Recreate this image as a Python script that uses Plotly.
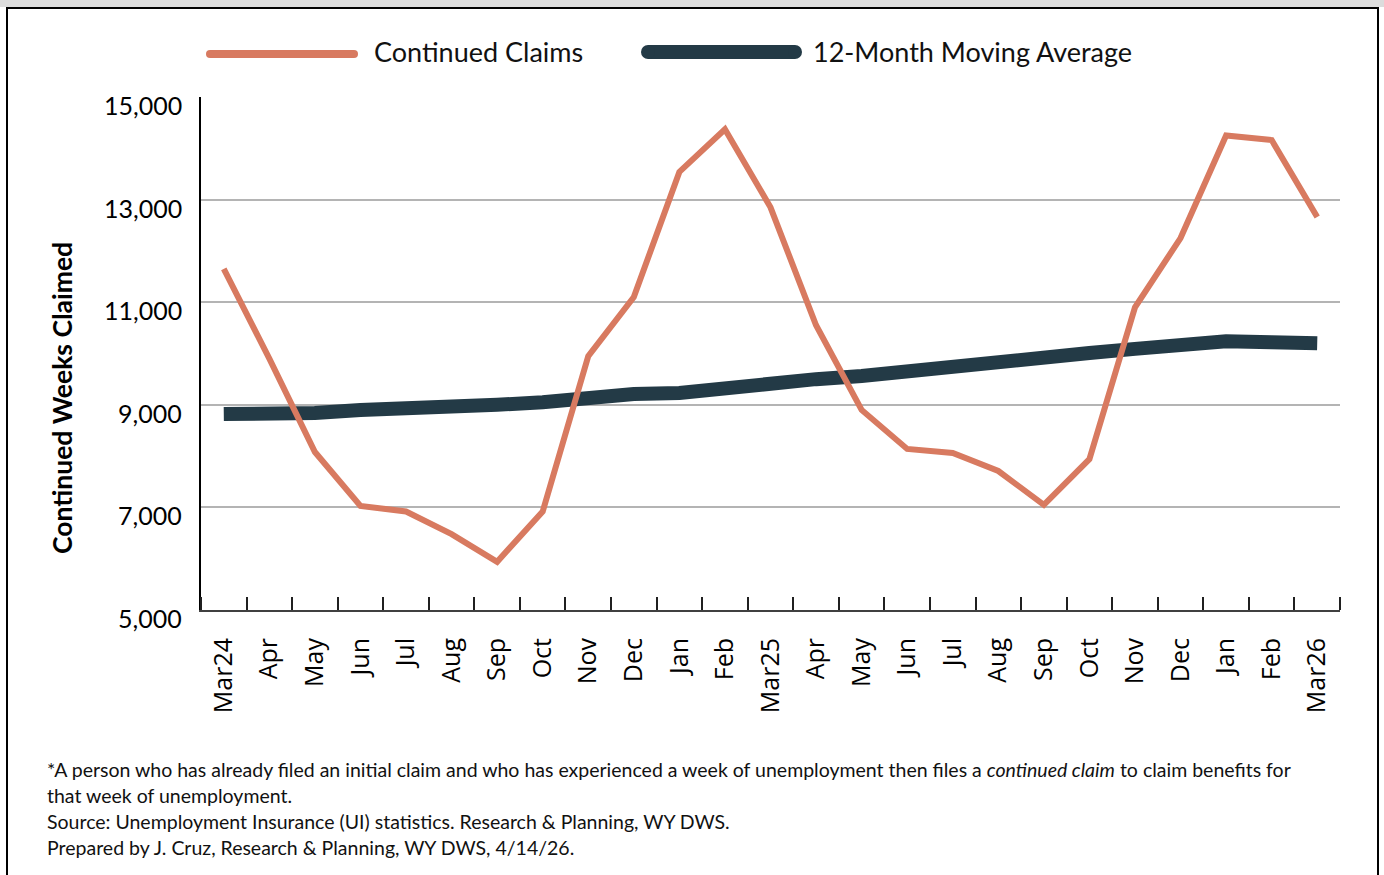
import plotly.graph_objects as go

# ---------------- data ----------------
month_labels = ["Mar24", "Apr", "May", "Jun", "Jul", "Aug", "Sep", "Oct", "Nov", "Dec",
                "Jan", "Feb", "Mar25", "Apr", "May", "Jun", "Jul", "Aug", "Sep", "Oct",
                "Nov", "Dec", "Jan", "Feb", "Mar26"]
continued_claims = [11650, 9900, 8080, 7030, 6920, 6480, 5940, 6920, 9950, 11100,
                    13540, 14370, 12850, 10550, 8900, 8140, 8060, 7710, 7050, 7940,
                    10900, 12250, 14250, 14160, 12660]
moving_average = [8820, 8800, 8840, 8900, 8920, 8960, 9000, 9050, 9150, 9210,
                  9230, 9330, 9440, 9500, 9560, 9660, 9740, 9830, 9930, 10010,
                  10090, 10180, 10240, 10220, 10200]
y_ticks = [5000, 7000, 9000, 11000, 13000, 15000]
y_tick_text = ["5,000", "7,000", "9,000", "11,000", "13,000", "15,000"]

x_pos = list(range(len(month_labels)))

# ---------------- style / layout ----------------
W, H = 1384, 875
L, R, T, B = 201, 44, 97, 265
PW, PH = W - L - R, H - T - B
ORANGE = "#D87A60"
DARK = "#233A46"


def px(x):
    return (x - L) / PW


def py(y):
    return (H - B - y) / PH


fig = go.Figure()
fig.add_trace(go.Scatter(x=x_pos, y=moving_average, mode="lines", name="12-Month Moving Average",
                         line=dict(color=DARK, width=14), showlegend=False))
fig.add_trace(go.Scatter(x=x_pos, y=continued_claims, mode="lines", name="Continued Claims",
                         line=dict(color=ORANGE, width=6), showlegend=False))

shapes = []
# top gray band and black frame
shapes.append(dict(type="rect", xref="paper", yref="paper", x0=px(0), x1=px(W), y0=py(0), y1=py(7),
                   fillcolor="#dcdcdc", line=dict(width=0), layer="below"))
shapes.append(dict(type="rect", xref="paper", yref="paper", x0=px(7), x1=px(1378), y0=py(8), y1=py(H + 20),
                   fillcolor="rgba(0,0,0,0)", line=dict(color="black", width=2), layer="below"))


def swatch(x0, x1, yc, w, color):
    out = [dict(type="line", xref="paper", yref="paper", x0=px(x0), x1=px(x1), y0=py(yc), y1=py(yc),
                line=dict(color=color, width=w))]
    for xe in (x0, x1):
        out.append(dict(type="circle", xref="paper", yref="paper", xsizemode="pixel", ysizemode="pixel",
                        xanchor=px(xe), yanchor=py(yc), x0=-w / 2, x1=w / 2, y0=-w / 2, y1=w / 2,
                        fillcolor=color, line=dict(width=0)))
    return out


shapes += swatch(210, 354, 54, 8, ORANGE)
shapes += swatch(648, 795, 52, 14, DARK)

annotations = [
    dict(text="Continued Claims", x=px(372), y=py(52), xref="paper", yref="paper", xanchor="left",
         yanchor="middle", showarrow=False, font=dict(family="Lato", size=27, color="#111")),
    dict(text="12-Month Moving Average", x=px(811), y=py(52), xref="paper", yref="paper", xanchor="left",
         yanchor="middle", showarrow=False, font=dict(family="Lato", size=27, color="#111")),
    dict(text="<b>Continued Weeks Claimed</b>", x=px(62), y=py(398), xref="paper", yref="paper",
         xanchor="center", yanchor="middle", textangle=-90, showarrow=False,
         font=dict(family="Lato", size=26.5, color="black")),
]
# y tick labels (sit slightly below their gridlines, as in the original)
for v, t in zip(y_ticks, y_tick_text):
    annotations.append(dict(text=t, x=px(184), y=v, xref="paper", yref="y", yshift=-8,
                            xanchor="right", yanchor="middle", showarrow=False,
                            font=dict(family="Lato", size=25, color="black")))

foot_lines = [
    "*A person who has already filed an initial claim and who has experienced a week of unemployment then files a <i>continued claim</i> to claim benefits for",
    "that week of unemployment.",
    "Source: Unemployment Insurance (UI) statistics. Research &amp; Planning, WY DWS.",
    "Prepared by J. Cruz, Research &amp; Planning, WY DWS, 4/14/26.",
]
for i, t in enumerate(foot_lines):
    annotations.append(dict(text=t, x=px(45), y=py(769 + 26 * i), xref="paper", yref="paper",
                            xanchor="left", yanchor="middle", showarrow=False, align="left",
                            font=dict(family="Lato", size=19.5, color="#111")))

fig.update_layout(
    width=W, height=H,
    margin=dict(l=L, r=R, t=T, b=B, pad=0),
    paper_bgcolor="white", plot_bgcolor="white",
    shapes=shapes, annotations=annotations,
    xaxis=dict(
        range=[-0.5, len(month_labels) - 0.5],
        tickmode="array", tickvals=x_pos, ticktext=month_labels,
        tickangle=-90, ticks="", ticklabelstandoff=16,
        tickfont=dict(family="Open Sans", size=25, color="black"),
        showgrid=False, zeroline=False,
        showline=True, linecolor="#404040", linewidth=2,
        minor=dict(tick0=-0.5, dtick=1, ticks="inside", ticklen=13, tickwidth=2, tickcolor="#202020",
                   showgrid=False),
    ),
    yaxis=dict(
        range=[5000, 15000],
        tickmode="array", tickvals=y_ticks, showticklabels=False,
        showgrid=True, gridcolor="#b4b4b4", gridwidth=1.5,
        zeroline=False, showline=True, linecolor="black", linewidth=2,
        ticks="",
    ),
)

fig.write_html("out.html", config={"displayModeBar": False},
               post_script="document.body.style.margin='0';document.body.style.overflow='hidden';")
